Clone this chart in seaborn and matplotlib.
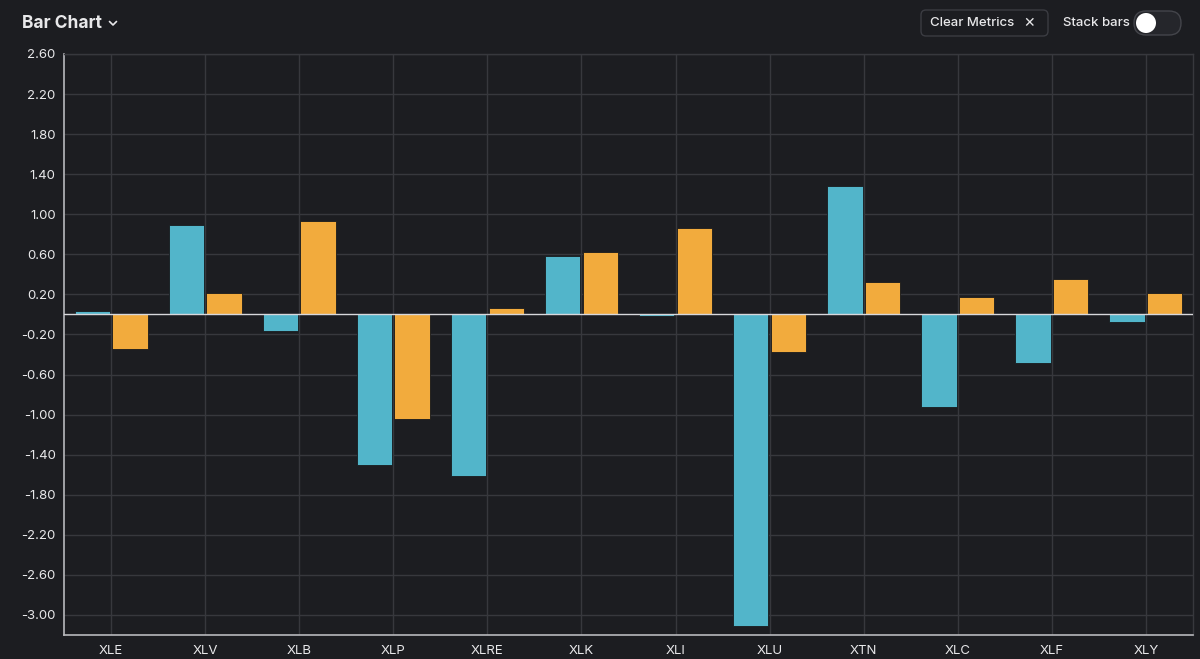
import matplotlib
matplotlib.use("Agg")
import matplotlib.pyplot as plt
from matplotlib.patches import FancyBboxPatch, Circle
import seaborn as sns
import pandas as pd

sectors = ["XLE", "XLV", "XLB", "XLP", "XLRE", "XLK", "XLI", "XLU", "XTN", "XLC", "XLF", "XLY"]
metric_1 = [0.03, 0.89, -0.17, -1.50, -1.61, 0.58, -0.02, -3.11, 1.28, -0.92, -0.48, -0.08]
metric_2 = [-0.34, 0.21, 0.93, -1.04, 0.06, 0.62, 0.86, -0.37, 0.32, 0.17, 0.35, 0.21]
series_names = ["Metric 1", "Metric 2"]
y_ticks = [2.6, 2.2, 1.8, 1.4, 1.0, 0.6, 0.2, -0.2, -0.6, -1.0, -1.4, -1.8, -2.2, -2.6, -3.0]

BG = "#1c1d21"
GRID = "#37383d"
TXT = "#e8e8ea"
BLUE = "#52b5ca"
ORANGE = "#f2ab3d"

df = pd.DataFrame({
    "sector": sectors * 2,
    "series": [series_names[0]] * len(sectors) + [series_names[1]] * len(sectors),
    "value": metric_1 + metric_2,
})

sns.set_theme(style="dark")
plt.rcParams["font.family"] = ["Inter", "DejaVu Sans"]
plt.rcParams["axes.unicode_minus"] = False

fig = plt.figure(figsize=(12, 6.59), dpi=100, facecolor=BG)
ax = fig.add_axes([64 / 1200, 24 / 659, (1193 - 64) / 1200, (635 - 54) / 659])
ax.set_facecolor(BG)

sns.barplot(data=df, x="sector", y="value", hue="series", order=sectors,
            hue_order=series_names, palette=[BLUE, ORANGE], saturation=1,
            width=0.8, gap=0.06, edgecolor="#17191c", linewidth=0.6,
            legend=False, ax=ax, zorder=3)

ax.set_xlim(-0.5, len(sectors) - 0.5)
ax.set_ylim(-3.2, 2.6)
ax.set_yticks(y_ticks)
ax.set_yticklabels([f"{t:.2f}" for t in y_ticks])
ax.set_xlabel("")
ax.set_ylabel("")

ax.grid(True, axis="both", color=GRID, linewidth=1.0, zorder=0)
ax.set_axisbelow(True)
ax.axhline(0, color="#d8d8dc", linewidth=1.0, zorder=5)

for side in ["top", "right"]:
    ax.spines[side].set_visible(True)
    ax.spines[side].set_color(GRID)
    ax.spines[side].set_linewidth(1.0)
for side in ["left", "bottom"]:
    ax.spines[side].set_visible(True)
    ax.spines[side].set_color("#b8b8bc")
    ax.spines[side].set_linewidth(1.2)

ax.tick_params(axis="both", colors="#b8b8bc", labelcolor=TXT, labelsize=9.5,
               length=5, width=1, direction="out", pad=2)
ax.tick_params(axis="y", pad=1)

# Header overlay in pixel coordinates
ov = fig.add_axes([0, 0, 1, 1], zorder=10)
ov.set_xlim(0, 1200)
ov.set_ylim(659, 0)
ov.axis("off")
ov.patch.set_alpha(0)

ov.text(22, 23, "Bar Chart", color=TXT, fontsize=12.5, fontweight="bold",
        ha="left", va="center")
ov.plot([109.5, 113, 116.5], [21.5, 25, 21.5], color=TXT, linewidth=1.2,
        solid_capstyle="round", solid_joinstyle="round")

ov.add_patch(FancyBboxPatch((921, 10), 127, 26,
                            boxstyle="round,pad=0,rounding_size=5",
                            facecolor=BG, edgecolor="#3b3c42", linewidth=1.0))
ov.text(930, 23, "Clear Metrics", color=TXT, fontsize=9.5, fontweight="medium",
        ha="left", va="center")
ov.text(1029, 23, "\u2715", color=TXT, fontsize=10, ha="center", va="center",
        family=["DejaVu Sans"])
ov.text(1063, 23, "Stack bars", color=TXT, fontsize=9.5, fontweight="medium",
        ha="left", va="center")

ov.add_patch(FancyBboxPatch((1134, 11), 47, 24,
                            boxstyle="round,pad=0,rounding_size=12",
                            facecolor="#25262b", edgecolor="#44454b", linewidth=1.0))
ov.add_patch(Circle((1146, 23), 10, facecolor="white", edgecolor="none"))

fig.savefig("out.png", dpi=100, facecolor=BG)
